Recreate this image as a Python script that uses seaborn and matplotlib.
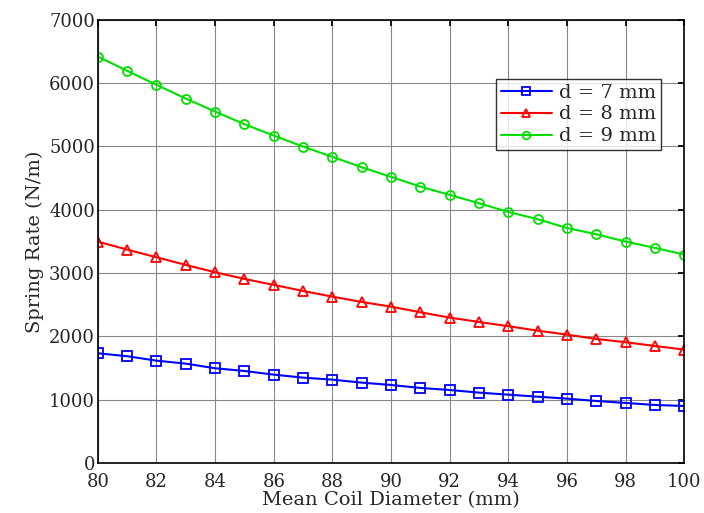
import matplotlib
matplotlib.use("Agg")
import matplotlib.pyplot as plt
import pandas as pd
import seaborn as sns

# mean coil diameter, mm
coil_diameter = list(range(80, 101))

# spring rate, N/m
rate_d7 = [1733, 1686, 1616, 1569, 1496, 1453, 1395, 1348, 1316, 1269, 1232,
           1185, 1153, 1111, 1079, 1047, 1016, 979, 948, 916, 900]
rate_d8 = [3496, 3370, 3249, 3128, 3012, 2907, 2812, 2717, 2627, 2543, 2469,
           2380, 2296, 2227, 2160, 2090, 2027, 1959, 1907, 1848, 1790]
rate_d9 = [6419, 6193, 5972, 5755, 5550, 5350, 5170, 4997, 4834, 4671, 4518,
           4365, 4234, 4102, 3965, 3850, 3712, 3612, 3496, 3397, 3291]

series_labels = ["d = 7 mm", "d = 8 mm", "d = 9 mm"]
series_colors = ["#0000ff", "#ff0000", "#00e000"]
series_markers = ["s", "^", "o"]

x_ticks = list(range(80, 101, 2))
y_ticks = list(range(0, 7001, 1000))

frames = []
for label, values in zip(series_labels, [rate_d7, rate_d8, rate_d9]):
    frames.append(pd.DataFrame({"D": coil_diameter, "k": values, "series": label}))
df = pd.concat(frames, ignore_index=True)

sns.set_theme(style="white")
plt.rcParams["font.family"] = ["DejaVu Serif"]

fig = plt.figure(figsize=(7.04, 5.13), dpi=100)
ax = fig.add_axes([0.139, 0.0975, 0.833, 0.864])

sns.lineplot(
    data=df, x="D", y="k", hue="series", style="series",
    palette=dict(zip(series_labels, series_colors)),
    markers=dict(zip(series_labels, series_markers)),
    dashes=False, linewidth=1.5, markersize=6.5,
    markerfacecolor="none", markeredgewidth=1.3,
    ax=ax,
)
for line, color in zip(ax.lines, series_colors):
    line.set_markeredgecolor(color)

ax.set_xlim(80, 100)
ax.set_ylim(0, 7000)
ax.set_xticks(x_ticks)
ax.set_yticks(y_ticks)
ax.grid(True, color="#888888", linewidth=0.8)
for spine in ax.spines.values():
    spine.set_color("black")
    spine.set_linewidth(1.2)
ax.tick_params(direction="in", length=4, top=True, right=True, labelsize=13,
               color="black")
ax.tick_params(axis="x", pad=7)
ax.tick_params(axis="y", pad=2)
ax.set_xlabel("Mean Coil Diameter (mm)", fontsize=14, labelpad=0)
ax.set_ylabel("Spring Rate (N/m)", fontsize=14, labelpad=4)

leg = ax.legend(loc="upper right", bbox_to_anchor=(0.961, 0.867), fontsize=14,
                frameon=True, fancybox=False, edgecolor="black",
                borderpad=0.25, labelspacing=0.2, handlelength=2.6,
                handletextpad=0.4, borderaxespad=0)
leg.get_frame().set_linewidth(1.0)
for handle, color in zip(leg.legend_handles, series_colors):
    handle.set_markerfacecolor("none")
    handle.set_markeredgecolor(color)
    handle.set_markersize(5.5)

fig.savefig("out.png", dpi=100)
